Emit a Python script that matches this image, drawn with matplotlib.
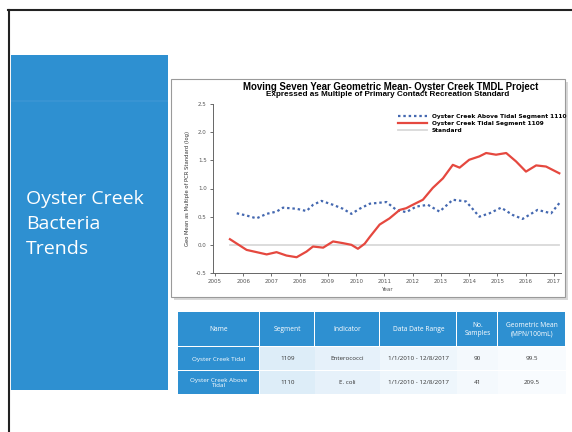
import matplotlib
matplotlib.use("Agg")
import matplotlib.pyplot as plt
from matplotlib.patches import Rectangle
from matplotlib.lines import Line2D

# ---------------- data ----------------
tidal_years = [2005.53, 2006.12, 2006.83, 2007.18, 2007.53, 2007.89, 2008.24, 2008.47,
               2008.83, 2009.18, 2009.53, 2009.83, 2010.06, 2010.30, 2010.48, 2010.83,
               2011.18, 2011.54, 2011.77, 2012.00, 2012.36, 2012.71, 2013.07, 2013.42,
               2013.66, 2014.00, 2014.36, 2014.60, 2014.95, 2015.31, 2015.66, 2016.01,
               2016.37, 2016.72, 2017.19]
tidal_vals = [0.10, -0.09, -0.17, -0.13, -0.19, -0.22, -0.12, -0.03,
              -0.05, 0.06, 0.03, 0.00, -0.07, 0.02, 0.14, 0.36,
              0.47, 0.62, 0.65, 0.71, 0.80, 1.01, 1.18, 1.42,
              1.37, 1.51, 1.57, 1.63, 1.60, 1.63, 1.48, 1.30,
              1.41, 1.39, 1.27]

above_years = [2005.77, 2006.12, 2006.47, 2006.83, 2007.18, 2007.41, 2007.89, 2008.24,
               2008.47, 2008.77, 2009.18, 2009.53, 2009.83, 2010.12, 2010.48, 2011.07,
               2011.42, 2011.77, 2012.13, 2012.54, 2012.95, 2013.42, 2013.89, 2014.36,
               2014.72, 2015.13, 2015.54, 2015.89, 2016.42, 2016.90, 2017.19]
above_vals = [0.56, 0.52, 0.47, 0.55, 0.59, 0.66, 0.64, 0.60,
              0.71, 0.78, 0.71, 0.64, 0.55, 0.64, 0.73, 0.76,
              0.62, 0.58, 0.68, 0.71, 0.59, 0.80, 0.77, 0.50,
              0.56, 0.66, 0.53, 0.46, 0.62, 0.56, 0.74]

standard_years = [2005.53, 2017.19]
standard_vals = [0.0, 0.0]

x_ticks = list(range(2005, 2018))
y_ticks = [-0.5, 0.0, 0.5, 1.0, 1.5, 2.0, 2.5]

series_labels = ["Oyster Creek Above Tidal Segment 1110",
                 "Oyster Creek Tidal Segment 1109",
                 "Standard"]

table_header = ["Name", "Segment", "Indicator", "Data Date Range", "No.\nSamples",
                "Geometric Mean\n(MPN/100mL)"]
table_names = ["Oyster Creek Tidal", "Oyster Creek Above\nTidal"]
table_segments = ["1109", "1110"]
table_indicators = ["Enterococci", "E. coli"]
table_ranges = ["1/1/2010 - 12/8/2017", "1/1/2010 - 12/8/2017"]
table_samples = ["90", "41"]
table_means = ["99.5", "209.5"]

# ---------------- figure ----------------
W, H = 572, 432
fig = plt.figure(figsize=(W / 100, H / 100), dpi=100)
fig.patch.set_facecolor("white")


def rect(x, y, w, h, **kw):
    r = Rectangle((x / W, 1 - (y + h) / H), w / W, h / H, transform=fig.transFigure, **kw)
    fig.patches.append(r)
    return r


def ftext(x, y, s, **kw):
    return fig.text(x / W, 1 - y / H, s, **kw)


def fline(xs, ys, **kw):
    fig.lines.append(Line2D([x / W for x in xs], [1 - y / H for y in ys],
                            transform=fig.transFigure, **kw))


BLUE = "#2E90D1"

# slide borders
fline([8, 572], [10, 10], color="#222222", lw=1.5)
fline([9, 9], [10, 432], color="#222222", lw=1.5)

# left blue panel
rect(11, 55, 157, 335, facecolor=BLUE, edgecolor="none", zorder=-5)
rect(11, 100, 157, 2, facecolor="#3894D3", edgecolor="none", zorder=-4)
for i, line in enumerate(["Oyster Creek", "Bacteria", "Trends"]):
    ftext(26, 204 + 25 * i, line, color="white", fontsize=14,
          family="Open Sans", va="baseline", ha="left")

# chart frame with shadow
rect(174, 82, 394, 218, facecolor="#D8D8D8", edgecolor="none", zorder=-5)
rect(171, 79, 394, 218, facecolor="white", edgecolor="#9A9A9A", lw=0.8, zorder=-4)

# title
ftext(391, 87.5, "Moving Seven Year Geometric Mean- Oyster Creek TMDL Project",
      fontsize=6.9, fontweight="bold", family="Liberation Sans", ha="center", va="center")
ftext(388, 95, "Expressed as Multiple of Primary Contact Recreation Standard",
      fontsize=5.9, fontweight="bold", family="Liberation Sans", ha="center", va="center")

# ---------------- axes ----------------
ax = fig.add_axes([213 / W, 1 - 273 / H, 348 / W, 169 / H])
ax.set_zorder(5)
ax.patch.set_alpha(0)
ax.plot(standard_years, standard_vals, color="#D9D9D9", lw=1.3, zorder=1,
        label=series_labels[2])
ax.plot(tidal_years, tidal_vals, color="#E5483F", lw=1.6, zorder=3,
        label=series_labels[1])
ax.plot(above_years, above_vals, color="#4468B0", lw=1.6, ls=(0, (1.1, 1.3)),
        zorder=2, label=series_labels[0])

ax.set_xlim(2004.93, 2017.25)
ax.set_ylim(-0.5, 2.5)
ax.set_xticks(x_ticks)
ax.set_yticks(y_ticks)
ax.set_xticklabels([str(t) for t in x_ticks])
ax.set_yticklabels(["%.1f" % t for t in y_ticks])
ax.tick_params(axis="both", labelsize=4, colors="#555555", length=2, width=0.6, pad=2.5)
for s in ["top", "right"]:
    ax.spines[s].set_visible(False)
for s in ["left", "bottom"]:
    ax.spines[s].set_color("#666666")
    ax.spines[s].set_linewidth(0.7)
ax.set_xlabel("Year", fontsize=4, color="#555555", labelpad=2)
ax.set_ylabel("Geo Mean as Multiple of PCR Standard (log)", fontsize=3.8,
              color="#333333", labelpad=4)

handles, labels = ax.get_legend_handles_labels()
order = [2, 1, 0]
leg = ax.legend([handles[i] for i in order], [labels[i] for i in order],
                loc="upper left", bbox_to_anchor=(0.52, 0.965), frameon=False,
                fontsize=4.2, handlelength=5, labelspacing=0.35, borderpad=0.2,
                handletextpad=0.8)
for t in leg.get_texts():
    t.set_fontweight("bold")

# ---------------- table ----------------
col_edges = [178, 260, 315, 380, 457, 498, 566]
hdr_y, hdr_h = 312, 35
row_y = [347, 371]
row_h = 24
gap = 1.5
for c in range(len(table_header)):
    x0, x1 = col_edges[c], col_edges[c + 1]
    rect(x0, hdr_y, x1 - x0 - gap, hdr_h - gap, facecolor=BLUE, edgecolor="none")
    ftext((x0 + x1) / 2, hdr_y + hdr_h / 2, table_header[c], color="white",
          fontsize=4.8, ha="center", va="center", family="Open Sans", linespacing=1.3)

rows = list(zip(table_names, table_segments, table_indicators, table_ranges,
                table_samples, table_means))
shades = ["#D6E8F6", "#DDEDF8", "#E6F1FA", "#EEF6FC", "#F4F9FD", "#F8FBFE"]
for r, vals in enumerate(rows):
    y0 = row_y[r]
    for c, v in enumerate(vals):
        x0, x1 = col_edges[c], col_edges[c + 1]
        if c == 0:
            rect(x0, y0, x1 - x0 - gap, row_h - gap, facecolor=BLUE, edgecolor="none")
            col = "white"
        else:
            rect(x0, y0, x1 - x0, row_h - gap, facecolor=shades[c], edgecolor="none")
            col = "#333333"
        ftext((x0 + x1) / 2, y0 + row_h / 2, v, color=col, fontsize=4.5,
              ha="center", va="center", family="Open Sans", linespacing=1.2)

fig.savefig("out.png", dpi=100, facecolor="white")
